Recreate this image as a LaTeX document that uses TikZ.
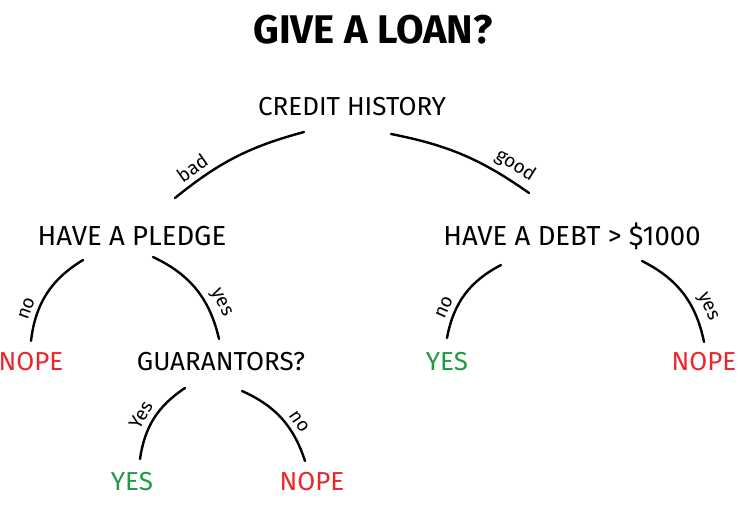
\documentclass[tikz,border=0pt]{standalone}
\usepackage{fontspec}
\setmainfont{Fira Sans}
\usetikzlibrary{calc}
\definecolor{loanred}{HTML}{E8262C}
\definecolor{loangreen}{HTML}{1F9A45}
\tikzset{
  headline/.style={font=\fontsize{40}{44}\selectfont\bfseries,inner sep=2pt},
  question/.style={font=\fontsize{26}{28}\selectfont,inner sep=2pt},
  yesleaf/.style={question,text=loangreen},
  nopeleaf/.style={question,text=loanred},
  branch/.style={line width=2.4pt,line cap=round},
  cond/.style={font=\fontsize{19}{21}\selectfont,sloped,above,inner sep=5pt},
}

\begin{document}
\begin{tikzpicture}[x=1pt,y=1pt]
  \useasboundingbox (0,0) rectangle (748,507);

  % ---- title and root ----
  \node[headline] (ttl) at (373,477) {GIVE A LOAN?};
  \node[question] (credit) at (352,400) {CREDIT HISTORY};

  % ---- second level ----
  \node[question,font=\fontsize{27.5}{30}\selectfont] (pledge) at (132,271) {HAVE A PLEDGE};
  \node[question,font=\fontsize{27.5}{30}\selectfont] (debt) at (572,271) {HAVE A DEBT > \$1000};

  % ---- third level ----
  \node[nopeleaf] (nopeA) at (31,145) {NOPE};
  \node[question] (guar) at (221,145) {GUARANTORS?};
  \node[yesleaf] (yesA) at (447,145) {YES};
  \node[nopeleaf] (nopeB) at (704,145) {NOPE};

  % ---- guarantors leaves ----
  \node[yesleaf] (yesB) at (132,25) {YES};
  \node[nopeleaf] (nopeC) at (312,25) {NOPE};

  % ---- branches ----
  \draw[branch] ($(credit.center)+(-48,-25)$) to[bend right=12]
    node[cond,pos=0.8]{bad} ($(pledge.center)+(43,38)$);
  \draw[branch] ($(credit.center)+(39,-27)$) to[bend left=12]
    node[cond,pos=0.84]{good} ($(debt.center)+(-43,43)$);

  \draw[branch] ($(pledge.center)+(-49,-24)$) to[bend right=26]
    node[cond,pos=0.72]{no} ($(nopeA.center)+(0,21)$);
  \draw[branch] ($(pledge.center)+(21,-21)$) to[bend left=26]
    node[cond,pos=0.72]{yes} ($(guar.center)+(-2,23)$);

  \draw[branch] ($(debt.center)+(-71,-29)$) to[bend right=26]
    node[cond,pos=0.72]{no} ($(yesA.center)+(0,24)$);
  \draw[branch] ($(debt.center)+(70,-25)$) to[bend left=26]
    node[cond,pos=0.72]{yes} ($(nopeB.center)+(0,20)$);

  \draw[branch] ($(guar.center)+(-36,-26)$) to[bend right=24]
    node[cond,pos=0.55]{Yes} ($(yesB.center)+(8,23)$);
  \draw[branch] ($(guar.center)+(21,-29)$) to[bend left=24]
    node[cond,pos=0.64]{no} ($(nopeC.center)+(-7,21)$);
\end{tikzpicture}
\end{document}
